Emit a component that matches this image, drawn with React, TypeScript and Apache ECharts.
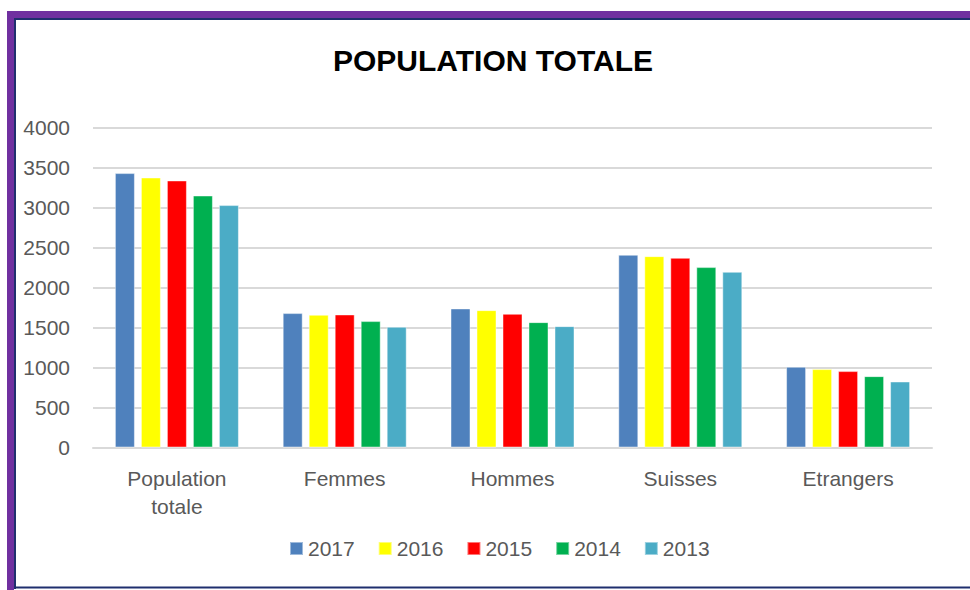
import React, { useEffect, useRef } from "react";
import * as echarts from "echarts";

const categories = ["Population\ntotale", "Femmes", "Hommes", "Suisses", "Etrangers"];
const years = ["2017", "2016", "2015", "2014", "2013"];
const colors = ["#4F81BD", "#FFFF00", "#FF0000", "#00B050", "#4BACC6"];
const values2017 = [3430, 1680, 1738, 2409, 1009];
const values2016 = [3375, 1659, 1717, 2392, 980];
const values2015 = [3338, 1663, 1671, 2371, 955];
const values2014 = [3150, 1580, 1567, 2255, 892];
const values2013 = [3030, 1509, 1517, 2196, 825];
const seriesValues = [values2017, values2016, values2015, values2014, values2013];
const yTicks = { min: 0, max: 4000, interval: 500 };

const FONT = "'Liberation Sans', Arial, sans-serif";

export default function App() {
  const ref = useRef<HTMLDivElement>(null);
  useEffect(() => {
    if (!ref.current) return;
    const chart = echarts.init(ref.current, null, { renderer: "svg" });
    chart.setOption({
      animation: false,
      backgroundColor: "#ffffff",
      title: {
        text: "POPULATION TOTALE",
        left: 488,
        textAlign: "center",
        top: 40,
        textStyle: { fontFamily: FONT, fontSize: 30, fontWeight: "bold", color: "#000000" },
      },
      legend: {
        data: years,
        bottom: 26,
        left: 284,
        itemWidth: 13,
        itemHeight: 13,
        itemGap: 23,
        icon: "rect",
        textStyle: { fontFamily: FONT, fontSize: 21, color: "#595959" },
      },
      grid: { left: 93, right: 38, top: 127.5, bottom: 142.5, containLabel: false },
      xAxis: {
        type: "category",
        data: categories,
        axisLine: { show: true, lineStyle: { color: "#d9d9d9", width: 2 } },
        axisTick: { show: false },
        axisLabel: {
          fontFamily: FONT,
          fontSize: 21,
          color: "#595959",
          margin: 17,
          lineHeight: 28,
        },
      },
      yAxis: {
        type: "value",
        min: yTicks.min,
        max: yTicks.max,
        interval: yTicks.interval,
        axisLine: { show: false },
        axisTick: { show: false },
        splitLine: { lineStyle: { color: "#d9d9d9", width: 2 } },
        axisLabel: {
          fontFamily: FONT,
          fontSize: 21,
          color: "#595959",
          margin: 23,
          formatter: (v: number) => String(v),
        },
      },
      series: years.map((y, i) => ({
        name: y,
        type: "bar",
        data: seriesValues[i],
        barWidth: 20,
        barGap: "30%",
        itemStyle: { color: colors[i], borderColor: "rgba(255,255,255,0.45)", borderWidth: 1 },
      })),
      graphic: [
        { type: "rect", shape: { x: 7, y: 11, width: 963, height: 7 }, style: { fill: "#7030A0" }, silent: true },
        { type: "rect", shape: { x: 7, y: 11, width: 7, height: 579 }, style: { fill: "#7030A0" }, silent: true },
        { type: "rect", shape: { x: 14, y: 18, width: 956, height: 2 }, style: { fill: "#1F2F6E" }, silent: true },
        { type: "rect", shape: { x: 14, y: 18, width: 2, height: 571 }, style: { fill: "#1F2F6E" }, silent: true },
        { type: "rect", shape: { x: 14, y: 586.5, width: 956, height: 2 }, style: { fill: "#1F2F6E" }, silent: true },
      ],
    });
    return () => chart.dispose();
  }, []);
  return (
    <div
      ref={ref}
      style={{ position: "fixed", left: 0, top: 0, width: 970, height: 590 }}
    />
  );
}
